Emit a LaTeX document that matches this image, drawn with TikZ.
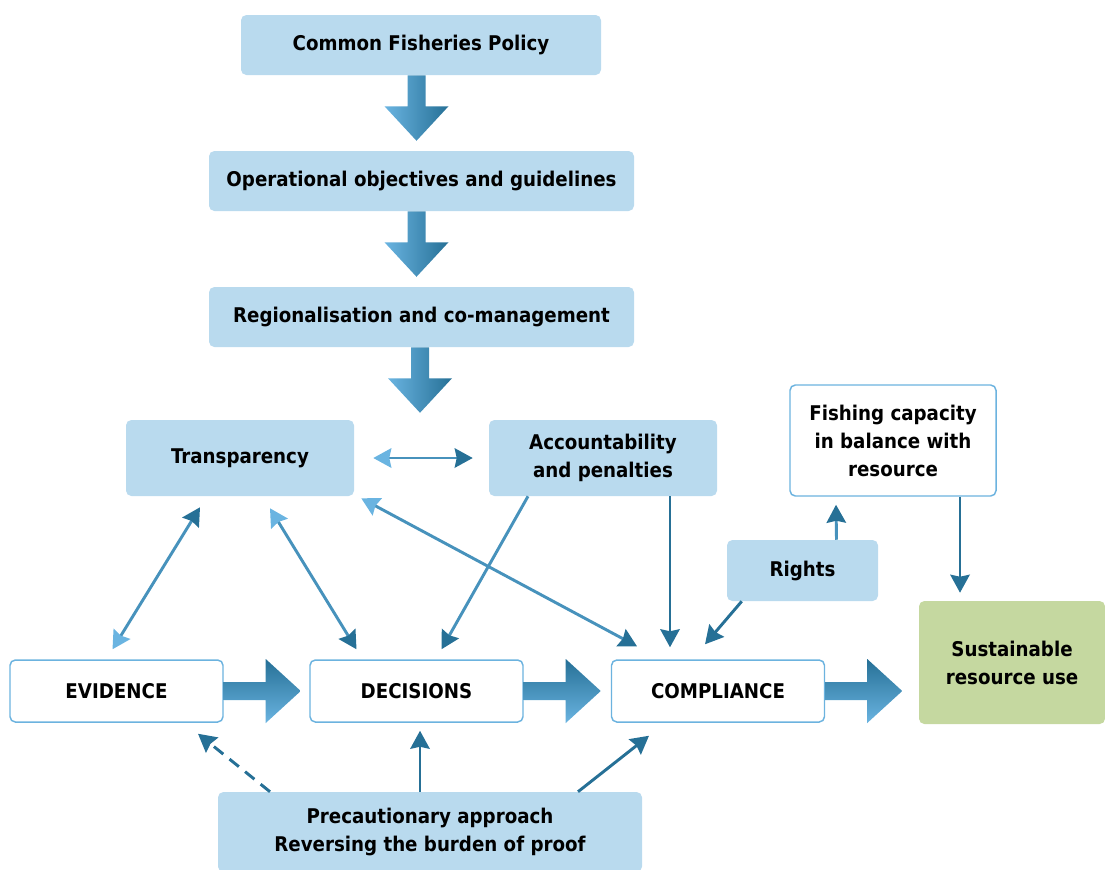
\documentclass[tikz,border=0pt]{standalone}
\usepackage{fontspec}
\setmainfont{DejaVu Sans Condensed}
\usetikzlibrary{arrows.meta,calc}
\definecolor{boxblue}{HTML}{B9DAEE}
\definecolor{boxline}{HTML}{6CB3DF}
\definecolor{boxgreen}{HTML}{C5D8A0}
\definecolor{abdark}{HTML}{267096}
\definecolor{ablight}{HTML}{6AB4E1}
\definecolor{abmid}{HTML}{4792BC}
\tikzset{
  Dk/.tip={Stealth[length=13.5pt,width=14.5pt,inset=1.5pt,color=abdark]},
  Lt/.tip={Stealth[length=13.5pt,width=14.5pt,inset=1.5pt,color=ablight]},
  bluebox/.style={fill=boxblue,draw=none,rounded corners=4pt,inner sep=0pt,align=center},
  whitebox/.style={fill=white,draw=boxline,line width=1.1pt,rounded corners=4pt,inner sep=0pt,align=center},
  greenbox/.style={fill=boxgreen,draw=none,rounded corners=4pt,inner sep=0pt,align=center},
  conn/.style={line width=2.2pt,draw=abmid},
  darkconn/.style={line width=2.2pt,draw=abdark},
  vblock/.pic={\shade[left color=ablight,right color=abdark]
     (-9,0) -- (9,0) -- (9,31) -- (32,31) -- (0,65.5) -- (-32,31) -- (-9,31) -- cycle;},
  hblock/.pic={\shade[top color=abdark,bottom color=ablight]
     (0,-9) -- (42,-9) -- (42,-32) -- (77,0) -- (42,32) -- (42,9) -- (0,9) -- cycle;},
}
\begin{document}
\begin{tikzpicture}[x=0.75pt,y=-0.75pt,font=\bfseries\fontsize{15.2}{21}\selectfont]
\useasboundingbox (0,0) rectangle (1105,869);

\node[bluebox,minimum width=270pt,minimum height=45pt] (cfp) at (421,45) {Common Fisheries Policy};
\node[bluebox,minimum width=318.75pt,minimum height=45pt] (oper) at (421.5,181) {Operational objectives and guidelines};
\node[bluebox,minimum width=318.75pt,minimum height=45pt] (reg) at (421.5,317) {Regionalisation and co-management};
\node[bluebox,minimum width=171pt,minimum height=57pt] (trans) at (240,458) {Transparency};
\node[bluebox,minimum width=171pt,minimum height=57pt] (acc) at (603,458) {Accountability\\and penalties};
\node[whitebox,minimum width=154.5pt,minimum height=83.25pt] (fish) at (893,440.5) {Fishing capacity\\in balance with\\resource};
\node[bluebox,minimum width=113.25pt,minimum height=45.75pt] (rights) at (802.5,570.5) {Rights};
\node[whitebox,minimum width=159.75pt,minimum height=46.5pt] (ev) at (116.5,691) {EVIDENCE};
\node[whitebox,minimum width=159.75pt,minimum height=46.5pt] (dec) at (416.5,691) {DECISIONS};
\node[whitebox,minimum width=159.75pt,minimum height=46.5pt] (comp) at (718,691) {COMPLIANCE};
\node[greenbox,minimum width=139.5pt,minimum height=92.25pt] (sus) at (1012,662.5) {Sustainable\\resource use};
\node[bluebox,minimum width=318pt,minimum height=60pt] (prec) at (430,832) {Precautionary approach\\Reversing the burden of proof};

% block arrows
\pic at ($(cfp.south)+(-4.5,0)$) {vblock};
\pic at ($(oper.south)+(-5,0)$) {vblock};
\pic at ($(reg.south)+(-1.5,0)$) {vblock};
\pic at (ev.east) {hblock};
\pic at (dec.east) {hblock};
\pic at (comp.east) {hblock};

% thin connectors
\draw[conn,Lt-Dk] ($(trans.east)+(19,0)$) -- ($(acc.west)+(-16,0)$);
\draw[conn,Dk-Lt] ($(trans.south)+(-40,11)$) -- ($(ev.north)+(-4,-10)$);
\draw[conn,Lt-Dk] ($(trans.south)+(30,12)$) -- ($(dec.north)+(-60,-10)$);
\draw[conn,Lt-Dk] ($(trans.south east)+(7,2)$) -- ($(comp.north)+(-81,-13)$);
\draw[conn,-Dk] ($(acc.south)+(-75,0)$) -- ($(dec.north)+(25,-10)$);
\draw[darkconn,-Dk] ($(acc.south)+(67,0)$) -- ($(comp.north)+(-48,-12)$);
\draw[darkconn,-Dk] ($(rights.south west)+(15,0)$) -- ($(comp.north)+(-13,-15)$);
\draw[conn,-Dk] ($(rights.north)+(34,0)$) -- ($(fish.south)+(-57,8)$);
\draw[darkconn,-Dk] ($(fish.south)+(67,0)$) -- ($(sus.north)+(-52,-8)$);
\draw[darkconn,-Dk,dash pattern=on 9pt off 6pt] ($(prec.north)+(-160,0)$) -- ($(ev.south)+(81.5,11)$);
\draw[darkconn,-Dk] ($(prec.north)+(-10,0)$) -- ($(dec.south)+(3.5,8)$);
\draw[darkconn,-Dk] ($(prec.north)+(148,0)$) -- ($(comp.south)+(-69,13)$);
\end{tikzpicture}
\end{document}
